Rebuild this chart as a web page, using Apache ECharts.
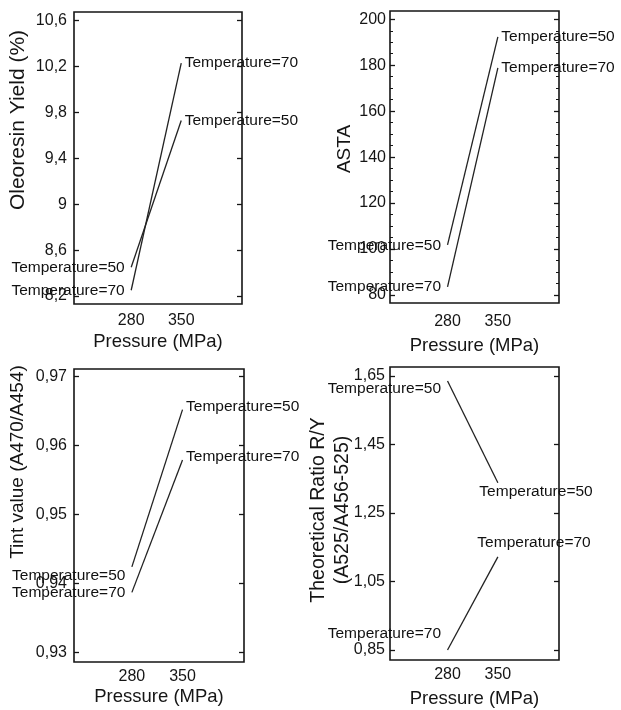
<!DOCTYPE html>
<html><head><meta charset="utf-8">
<script src="https://cdn.jsdelivr.net/npm/echarts@6/dist/echarts.min.js"></script>
<style>html,body{margin:0;padding:0;background:#fff}#c{width:621px;height:710px}</style>
</head><body><div id="c"></div><script>
const pressure = [280, 350];
const xTicks = [280, 350];
const seriesNames = ['Temperature=50', 'Temperature=70'];
const yieldT50 = [8.45, 9.73];
const yieldT70 = [8.25, 10.23];
const yieldTicks = [8.2, 8.6, 9, 9.4, 9.8, 10.2, 10.6];
const astaT50 = [101.8, 192.3];
const astaT70 = [83.5, 178.8];
const astaTicks = [80, 100, 120, 140, 160, 180, 200];
const astaMinorTicks = [80, 85, 90, 95, 100, 105, 110, 115, 120, 125, 130, 135, 140, 145, 150, 155, 160, 165, 170, 175, 180, 185, 190, 195, 200];
const tintT50 = [0.9424, 0.9652];
const tintT70 = [0.9387, 0.9579];
const tintTicks = [0.93, 0.94, 0.95, 0.96, 0.97];
const ratioT50 = [1.635, 1.338];
const ratioT70 = [0.85, 1.122];
const ratioTicks = [0.85, 1.05, 1.25, 1.45, 1.65];
const xTitle = 'Pressure (MPa)';
const yTitles = ['Oleoresin Yield (%)', 'ASTA', 'Tint value (A470/A454)', 'Theoretical Ratio R/Y\n(A525/A456-525)'];

const FONT = '"Liberation Sans", Arial, sans-serif';
const INK = '#151515';
const comma = v => String(v).replace('.', ',');
const comma2 = v => Number(v).toFixed(2).replace('.', ',');

const panels = [
  { grid: {left: 74, top: 12, width: 168, height: 292}, yMin: 8.13, yMax: 10.676, ticks: yieldTicks, fmt: comma,
    yMargin: 7, xMargin: 9, xGap: 28, s50: yieldT50, s70: yieldT70,
    lab: [[['left', [0, 0]], ['right', [0, 0]]], [['left', [0, 0]], ['right', [0, 0]]]],
    title: {x: 18, y: 120, size: 21} },
  { grid: {left: 390, top: 11, width: 169, height: 292}, yMin: 76.5, yMax: 203.6, ticks: astaTicks, minor: astaMinorTicks, fmt: v => String(v),
    yMargin: 4, xMargin: 11, xGap: 33, s50: astaT50, s70: astaT70,
    lab: [[['left', [0, 1]], ['right', [0, 0]]], [['left', [0, 0]], ['right', [0, 0]]]],
    title: {x: 345, y: 149, size: 19} },
  { grid: {left: 74, top: 369, width: 170, height: 293}, yMin: 0.9286, yMax: 0.9711, ticks: tintTicks, fmt: comma2,
    yMargin: 7, xMargin: 7, xGap: 25, s50: tintT50, s70: tintT70,
    lab: [[['left', [0, 9]], ['right', [0, -3]]], [['left', [0, 0]], ['right', [0, -3]]]],
    title: {x: 18, y: 462, size: 19} },
  { grid: {left: 390, top: 367, width: 169, height: 293}, yMin: 0.821, yMax: 1.676, ticks: ratioTicks, fmt: comma2,
    yMargin: 5, xMargin: 7, xGap: 29, s50: ratioT50, s70: ratioT70,
    lab: [[['left', [0, 8]], ['right', [-22, 9]]], [['left', [0, -16]], ['right', [-24, -14]]]],
    title: {x: 331, y: 510, size: 19.5} }
];

const grid = [], xAxis = [], yAxis = [], series = [], graphic = [];
panels.forEach((p, i) => {
  grid.push(Object.assign({show: true, borderColor: INK, borderWidth: 1.6, backgroundColor: 'transparent'}, p.grid));
  xAxis.push({
    type: 'value', gridIndex: i, min: 200, max: 435,
    axisLine: {show: false}, axisTick: {show: false}, splitLine: {show: false},
    axisLabel: {customValues: xTicks, margin: p.xMargin, fontSize: 16, color: INK, fontFamily: FONT},
    name: xTitle, nameLocation: 'middle', nameGap: p.xGap,
    nameTextStyle: {fontSize: 18.5, color: INK, fontFamily: FONT}
  });
  const mainIdx = yAxis.length;
  const base = {type: 'value', gridIndex: i, min: p.yMin, max: p.yMax, axisLine: {show: false}, splitLine: {show: false}};
  yAxis.push(Object.assign({}, base, {
    position: 'left',
    axisTick: {show: true, inside: true, length: 5, customValues: p.ticks, lineStyle: {color: INK, width: 1.3}},
    axisLabel: {customValues: p.ticks, formatter: p.fmt, margin: p.yMargin, fontSize: 16, color: INK, fontFamily: FONT}
  }));
  yAxis.push(Object.assign({}, base, {
    position: 'right',
    axisTick: {show: true, inside: true, length: 5, customValues: p.ticks, lineStyle: {color: INK, width: 1.3}},
    axisLabel: {show: false}
  }));
  if (p.minor) {
    ['left', 'right'].forEach(pos => yAxis.push(Object.assign({}, base, {
      position: pos,
      axisTick: {show: true, inside: true, length: 3, customValues: p.minor, lineStyle: {color: INK, width: 1}},
      axisLabel: {show: false}
    })));
  }
  [p.s50, p.s70].forEach((vals, k) => {
    series.push({
      type: 'line', name: seriesNames[k], xAxisIndex: i, yAxisIndex: mainIdx,
      symbol: 'circle', symbolSize: 1, itemStyle: {color: 'rgba(0,0,0,0)'},
      lineStyle: {color: '#222', width: 1.3}, silent: true, animation: false,
      data: vals.map((v, j) => ({
        value: [pressure[j], v],
        label: {show: true, formatter: seriesNames[k], position: p.lab[k][j][0], offset: p.lab[k][j][1],
                distance: j === 0 ? 6 : 3, fontSize: 15.5, color: '#111', fontFamily: FONT}
      }))
    });
  });
  graphic.push({
    type: 'text', x: p.title.x, y: p.title.y, rotation: Math.PI / 2,
    style: {text: yTitles[i], fontSize: p.title.size, lineHeight: 24, fill: INK, fontFamily: FONT,
            align: 'center', verticalAlign: 'middle'}
  });
});

const chart = echarts.init(document.getElementById('c'), null, {renderer: 'canvas'});
chart.setOption({animation: false, backgroundColor: '#fff', grid, xAxis, yAxis, series, graphic});
</script></body></html>
